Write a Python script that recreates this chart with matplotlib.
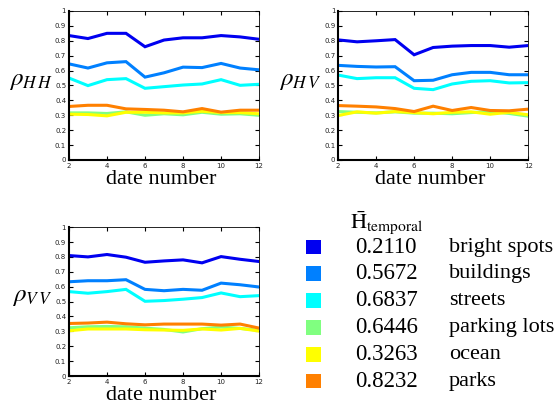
import matplotlib
matplotlib.use("Agg")
import matplotlib.pyplot as plt

plt.rcParams["font.family"] = ["Liberation Serif", "DejaVu Serif"]
plt.rcParams["mathtext.fontset"] = "stix"

dates = [2, 3, 4, 5, 6, 7, 8, 9, 10, 11, 12]
classes = ["bright spots", "buildings", "streets", "parking lots", "ocean", "parks"]
entropy = ["0.2110", "0.5672", "0.6837", "0.6446", "0.3263", "0.8232"]
colors = ["#0000f0", "#0080ff", "#00ffff", "#80ff80", "#ffff00", "#ff8000"]

hh = [
    [0.835, 0.815, 0.850, 0.850, 0.760, 0.805, 0.820, 0.820, 0.835, 0.826, 0.810],
    [0.645, 0.617, 0.652, 0.660, 0.556, 0.585, 0.623, 0.620, 0.648, 0.617, 0.605],
    [0.550, 0.499, 0.539, 0.546, 0.481, 0.492, 0.503, 0.510, 0.539, 0.501, 0.508],
    [0.316, 0.316, 0.312, 0.323, 0.300, 0.310, 0.303, 0.320, 0.307, 0.310, 0.300],
    [0.307, 0.305, 0.296, 0.320, 0.320, 0.316, 0.316, 0.327, 0.318, 0.318, 0.310],
    [0.359, 0.367, 0.367, 0.343, 0.339, 0.334, 0.323, 0.345, 0.321, 0.334, 0.334],
]
hv = [
    [0.806, 0.793, 0.800, 0.808, 0.706, 0.755, 0.764, 0.768, 0.768, 0.757, 0.768],
    [0.635, 0.628, 0.624, 0.626, 0.532, 0.535, 0.572, 0.588, 0.588, 0.572, 0.572],
    [0.570, 0.546, 0.552, 0.552, 0.481, 0.472, 0.510, 0.528, 0.532, 0.517, 0.519],
    [0.325, 0.320, 0.316, 0.323, 0.314, 0.314, 0.310, 0.318, 0.325, 0.312, 0.294],
    [0.298, 0.323, 0.314, 0.325, 0.318, 0.310, 0.320, 0.323, 0.307, 0.320, 0.303],
    [0.365, 0.361, 0.356, 0.345, 0.325, 0.361, 0.332, 0.352, 0.332, 0.330, 0.341],
]
vv = [
    [0.809, 0.800, 0.816, 0.798, 0.764, 0.773, 0.780, 0.760, 0.802, 0.784, 0.769],
    [0.633, 0.640, 0.640, 0.647, 0.582, 0.573, 0.582, 0.576, 0.624, 0.613, 0.598],
    [0.567, 0.556, 0.567, 0.582, 0.502, 0.507, 0.516, 0.527, 0.558, 0.533, 0.540],
    [0.324, 0.331, 0.333, 0.331, 0.322, 0.313, 0.296, 0.318, 0.329, 0.320, 0.307],
    [0.304, 0.316, 0.316, 0.316, 0.311, 0.309, 0.307, 0.316, 0.309, 0.320, 0.302],
    [0.353, 0.356, 0.362, 0.351, 0.344, 0.349, 0.349, 0.349, 0.342, 0.349, 0.322],
]
panels = [(hh, r"$\rho_{H\,H}$"), (hv, r"$\rho_{H\,V}$"), (vv, r"$\rho_{V\,V}$")]

fig = plt.figure(figsize=(5.56, 4.07), dpi=100)
rects = [[0.124, 0.607, 0.342, 0.366],
         [0.608, 0.607, 0.342, 0.366],
         [0.124, 0.076, 0.342, 0.366]]

for (data, lab), r in zip(panels, rects):
    ax = fig.add_axes(r)
    for vals, c in zip(data, colors):
        ax.plot(dates, vals, color=c, lw=2.2, solid_joinstyle="miter")
    ax.set_xlim(2, 12)
    ax.set_ylim(0, 1)
    ax.set_xticks([2, 4, 6, 8, 10, 12])
    ax.set_yticks([i / 10 for i in range(11)])
    ax.set_yticklabels(["0"] + ["0.%d" % i for i in range(1, 10)] + ["1"])
    ax.tick_params(direction="in", top=True, right=True, length=3, width=0.8,
                   labelsize=5, pad=2, labelcolor="#222222")
    for t in ax.get_xticklabels() + ax.get_yticklabels():
        t.set_family("DejaVu Sans")
    ax.spines["left"].set_linewidth(1.5)
    ax.spines["bottom"].set_linewidth(1.5)
    ax.spines["top"].set_linewidth(0.6)
    ax.spines["right"].set_linewidth(0.6)
    ax.set_xlabel("date number", fontsize=16, labelpad=0)
    ax.xaxis.set_label_coords(0.485, -0.065, transform=ax.transAxes)
    ax.xaxis.label.set_va("top")
    ax.set_ylabel(lab, fontsize=18, rotation=0, ha="right", va="center")
    ax.yaxis.set_label_coords(-0.085, 0.53)

# legend block
lg = fig.add_axes([290 / 556, 0, 266 / 556, 207 / 407])
lg.set_xlim(0, 1)
lg.set_ylim(5.97, -1.754)
lg.axis("off")
for i, (c, e, name) in enumerate(zip(colors, entropy, classes)):
    lg.scatter([0.09], [i], marker="s", s=115, color=c, edgecolors="none")
    lg.text(0.245, i, e, fontsize=16.5, va="center", ha="left")
    lg.text(0.598, i, name, fontsize=16, va="center", ha="left")
lg.text(0.226, -0.9, r"$\bar{\mathrm{H}}_{\mathrm{temporal}}$", fontsize=16,
        va="center", ha="left")

fig.savefig("out.png", dpi=100)
